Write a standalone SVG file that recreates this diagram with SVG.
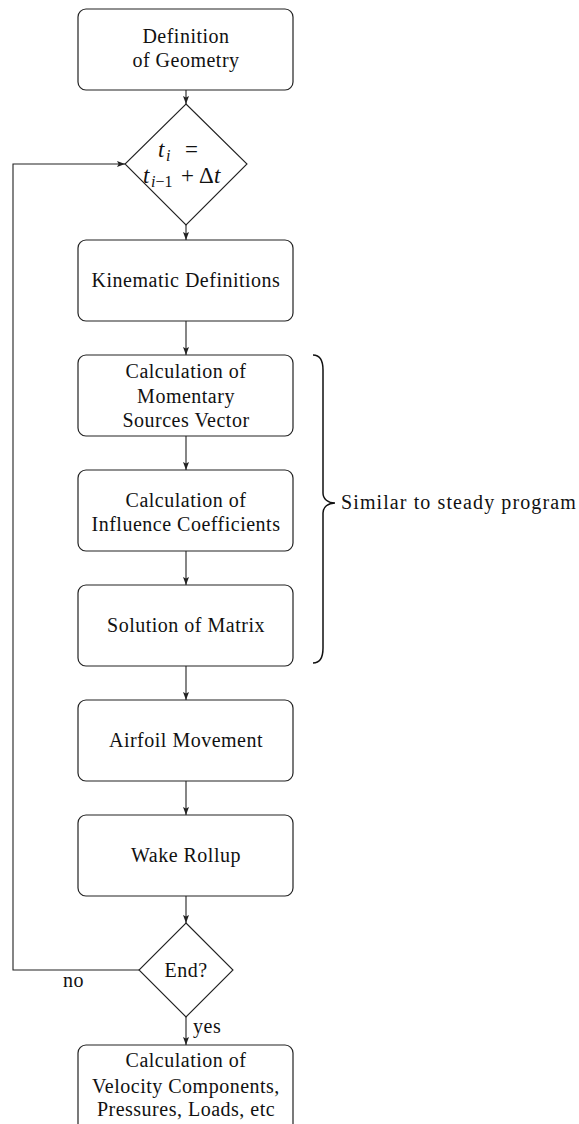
<svg xmlns="http://www.w3.org/2000/svg" width="579" height="1124" viewBox="0 0 579 1124">
  <defs>
    <marker id="arrow" viewBox="0 0 8 6" refX="8" refY="3" markerWidth="8" markerHeight="6" markerUnits="userSpaceOnUse" orient="auto">
      <path d="M0,0 L8,3 L0,6 L1.6,3 Z" fill="#222"/>
    </marker>
  </defs>
  <style>
    .box { fill: #fff; stroke: #222; stroke-width: 1.2; }
    .dia { fill: #fff; stroke: #222; stroke-width: 1.1; }
    .lbl { font-family: 'Liberation Serif', 'DejaVu Serif', serif; font-size: 20px; fill: #111; text-anchor: middle; letter-spacing: 0.5px; }
    .side { font-family: 'Liberation Serif', 'DejaVu Serif', serif; font-size: 20px; fill: #111; letter-spacing: 0.5px; }
    .note { font-family: 'Liberation Serif', 'DejaVu Serif', serif; font-size: 20px; fill: #111; letter-spacing: 1.1px; }
    .m { font-family: 'Liberation Serif', 'DejaVu Serif', serif; font-size: 23px; fill: #111; }
    .mi { font-style: italic; }
    .sub { font-family: 'Liberation Serif', 'DejaVu Serif', serif; font-size: 16px; fill: #111; }
    .conn { fill: none; stroke: #222; stroke-width: 1.1; }
  </style>
  <rect width="579" height="1124" fill="#fff"/>

  <!-- connectors -->
  <g id="connectors">
    <line class="conn" x1="186" y1="90" x2="186" y2="104" marker-end="url(#arrow)"/>
    <line class="conn" x1="186" y1="225" x2="186" y2="240" marker-end="url(#arrow)"/>
    <line class="conn" x1="186" y1="321" x2="186" y2="355" marker-end="url(#arrow)"/>
    <line class="conn" x1="186" y1="436" x2="186" y2="470" marker-end="url(#arrow)"/>
    <line class="conn" x1="186" y1="551" x2="186" y2="585" marker-end="url(#arrow)"/>
    <line class="conn" x1="186" y1="666" x2="186" y2="700" marker-end="url(#arrow)"/>
    <line class="conn" x1="186" y1="781" x2="186" y2="815" marker-end="url(#arrow)"/>
    <line class="conn" x1="186" y1="896" x2="186" y2="923" marker-end="url(#arrow)"/>
    <line class="conn" x1="186" y1="1017" x2="186" y2="1045" marker-end="url(#arrow)"/>
    <!-- loop back when not finished -->
    <polyline class="conn" points="139,970 13,970 13,164 125,164" marker-end="url(#arrow)"/>
    <text class="side" x="63" y="987">no</text>
    <text class="side" x="193" y="1033">yes</text>
  </g>

  <g id="geometry">
    <rect class="box" x="78" y="9" width="215" height="81" rx="8"/>
    <text class="lbl" x="186" y="43">Definition</text>
    <text class="lbl" x="186" y="67">of Geometry</text>
  </g>

  <g id="timestep">
    <polygon class="dia" points="186,104 247,164 186,225 125,164"/>
    <!-- t_i = -->
    <text class="m mi" x="158" y="157">t</text>
    <text class="sub mi" x="166" y="161">i</text>
    <text class="m" x="185" y="157">=</text>
    <!-- t_{i-1} + Δt -->
    <text class="m mi" x="143" y="183">t</text>
    <text class="sub" x="151" y="187"><tspan font-style="italic">i</tspan>−1</text>
    <text class="m" x="181" y="183">+</text>
    <text class="m" x="199" y="183">Δ</text>
    <text class="m mi" x="214" y="183">t</text>
  </g>

  <g id="kinematics">
    <rect class="box" x="78" y="240" width="215" height="81" rx="8"/>
    <text class="lbl" x="186" y="287">Kinematic Definitions</text>
  </g>

  <g id="sources">
    <rect class="box" x="78" y="355" width="215" height="81" rx="8"/>
    <text class="lbl" x="186" y="378">Calculation of</text>
    <text class="lbl" x="186" y="403">Momentary</text>
    <text class="lbl" x="186" y="427">Sources Vector</text>
  </g>

  <g id="influence">
    <rect class="box" x="78" y="470" width="215" height="81" rx="8"/>
    <text class="lbl" x="186" y="507">Calculation of</text>
    <text class="lbl" x="186" y="531">Influence Coefficients</text>
  </g>

  <g id="matrix">
    <rect class="box" x="78" y="585" width="215" height="81" rx="8"/>
    <text class="lbl" x="186" y="632">Solution of Matrix</text>
  </g>

  <g id="movement">
    <rect class="box" x="78" y="700" width="215" height="81" rx="8"/>
    <text class="lbl" x="186" y="747">Airfoil Movement</text>
  </g>

  <g id="wake">
    <rect class="box" x="78" y="815" width="215" height="81" rx="8"/>
    <text class="lbl" x="186" y="862">Wake Rollup</text>
  </g>

  <g id="end">
    <polygon class="dia" points="186,923 233,970 186,1017 139,970"/>
    <text class="lbl" x="186" y="977">End?</text>
  </g>

  <g id="results">
    <rect class="box" x="78" y="1045" width="215" height="100" rx="8"/>
    <text class="lbl" x="186" y="1067">Calculation of</text>
    <text class="lbl" x="186" y="1093">Velocity Components,</text>
    <text class="lbl" x="186" y="1116">Pressures, Loads, etc</text>
  </g>

  <!-- brace grouping the steady-solver steps -->
  <g id="brace">
    <path d="M313,355 C320,355 323,360 323,370 L323,493 C323,499 328,503 335,503 C328,503 323,507 323,513 L323,648 C323,658 320,663 313,663" fill="none" stroke="#111" stroke-width="1.5"/>
    <text class="note" x="341" y="509">Similar to steady program</text>
  </g>
</svg>
